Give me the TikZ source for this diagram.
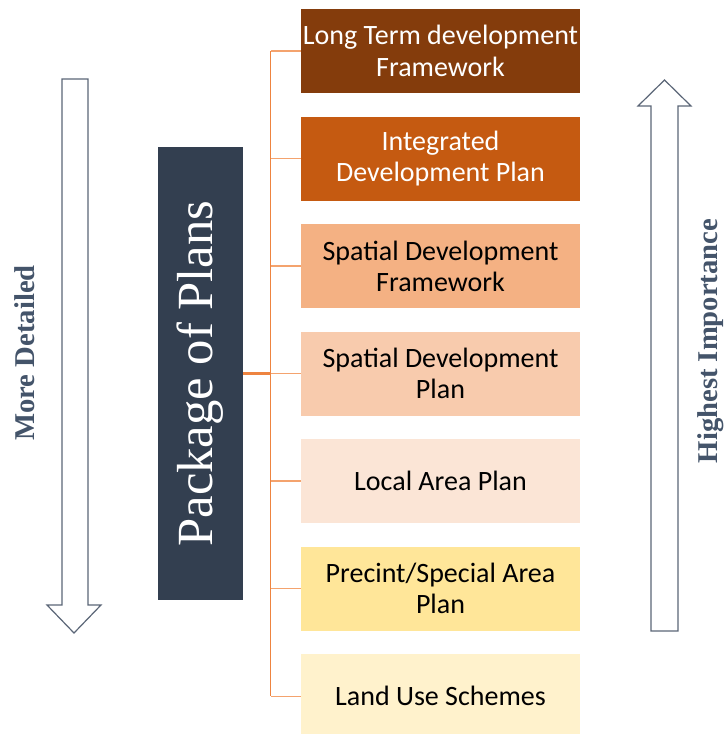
\documentclass[tikz,border=0pt]{standalone}
\usepackage{fontspec}
\setmainfont{Liberation Serif}
\newfontfamily\boxfont{Carlito}
\usetikzlibrary{positioning}
\definecolor{planA}{HTML}{843C0C}
\definecolor{planB}{HTML}{C55A11}
\definecolor{planC}{HTML}{F4B183}
\definecolor{planD}{HTML}{F8CBAD}
\definecolor{planE}{HTML}{FBE5D6}
\definecolor{planF}{HTML}{FFE699}
\definecolor{planG}{HTML}{FFF2CC}
\definecolor{slate}{HTML}{333F50}
\definecolor{linkorange}{HTML}{F4A36E}
\definecolor{trunkorange}{HTML}{EE8440}
\definecolor{arrowgray}{HTML}{5B6677}
\definecolor{sidetext}{HTML}{44546A}
\begin{document}
\begin{tikzpicture}[x=0.75pt, y=-0.75pt, node distance=17.25pt,
        planbox/.style={rectangle, inner sep=0pt, minimum width=209.25pt, minimum height=63pt,
          align=center, font=\boxfont\fontsize{21}{23.5}\selectfont},
        sidelabel/.style={rotate=90, text=sidetext, font=\bfseries\fontsize{21.5}{26}\selectfont},
        bigarrow/.style={draw=arrowgray, line width=0.9pt, fill=white, line join=miter},
        link/.style={draw=linkorange, line width=1pt}
        ]
        \useasboundingbox (0,0) rectangle (726,734);
        % the column of plans
        \node[planbox, fill=planA, text=white] (b1) at (440.5,51) {Long Term development\\Framework};
        \node[planbox, fill=planB, text=white, below=of b1] (b2) {Integrated\\Development Plan};
        \node[planbox, fill=planC, below=of b2] (b3) {Spatial Development\\Framework};
        \node[planbox, fill=planD, below=of b3] (b4) {Spatial Development\\Plan};
        \node[planbox, fill=planE, below=of b4] (b5) {Local Area Plan};
        \node[planbox, fill=planF, below=of b5] (b6) {Precint/Special Area\\Plan};
        \node[planbox, fill=planG, below=of b6] (b7) {Land Use Schemes};
        \node[fill=slate, minimum width=63.75pt, minimum height=339pt, inner sep=0pt,
          text=white, font=\fontsize{38}{44}\selectfont] (pkg) at (200,373.5)
          {\rotatebox{90}{Package of Plans}};
        %connectors
        \coordinate (trunktop) at ([xshift=-22.5pt]b1.west);
        \coordinate (trunkbot) at ([xshift=-22.5pt]b7.west);
        \foreach \b in {b1,b2,b3,b4,b5,b6,b7}
          \draw[link] (\b.west) -- (\b.west -| trunktop);
        \draw[link, draw=trunkorange] (trunktop) -- (trunkbot);
        \draw[link, draw=trunkorange, line width=1.6pt] (pkg.east) -- (pkg.east -| trunktop);
        % side arrows
        \draw[bigarrow] (62,79) -- (88,79) -- (88,605) -- (101,605) -- (74,633)
          -- (47,605) -- (62,605) -- cycle;
        \draw[bigarrow] (651,631) -- (678,631) -- (678,106) -- (691,106) -- (664.5,80)
          -- (638,106) -- (651,106) -- cycle;
        \node[sidelabel] (detail) at (25,353) {More Detailed};
        \node[sidelabel] (importance) at (711,341) {Highest Importance};
      \end{tikzpicture}
\end{document}
